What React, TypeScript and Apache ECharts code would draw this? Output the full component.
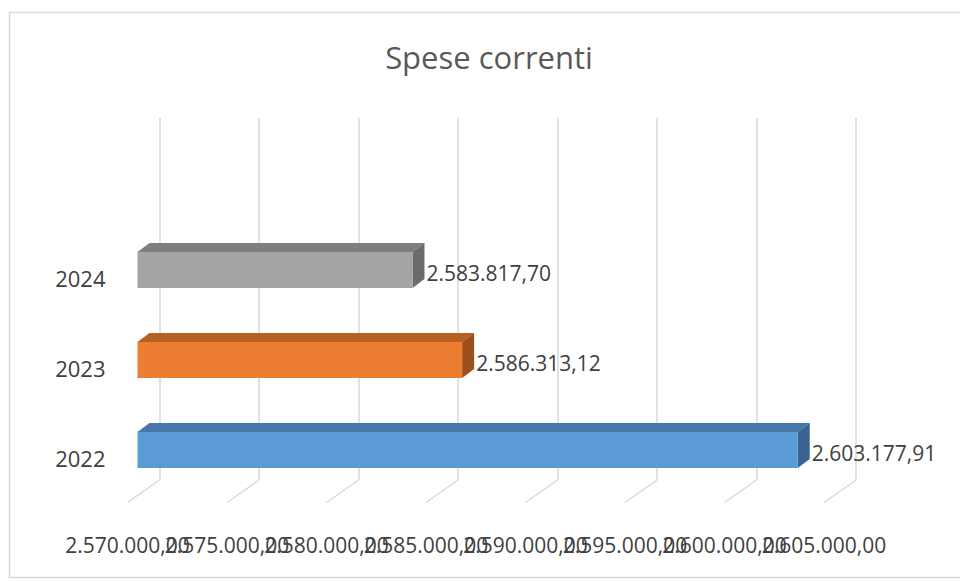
import React, { useEffect, useRef } from "react";
import * as echarts from "echarts";

const title = "Spese correnti";
const categories = ["2022", "2023", "2024"];
const values = [2603177.91, 2586313.12, 2583817.7];
const xMin = 2570000;
const xMax = 2605000;
const xStep = 5000;

const faceColors = ["#5B9BD5", "#ED7D31", "#A5A5A5"];
const topColors = ["#4677A8", "#B55F23", "#7F7F7F"];
const sideColors = ["#3A6391", "#9C4F1C", "#6B6B6B"];

function fmtIt(v: number): string {
  const [i, d] = v.toFixed(2).split(".");
  return i.replace(/\B(?=(\d{3})+(?!\d))/g, ".") + "," + d;
}

const tickValues: number[] = [];
for (let t = xMin; t <= xMax; t += xStep) tickValues.push(t);

const FONT = "'Open Sans', 'Liberation Sans', sans-serif";

export default function App() {
  const ref = useRef<HTMLDivElement>(null);
  useEffect(() => {
    if (!ref.current) return;
    const chart = echarts.init(ref.current, null, { renderer: "svg" });
    const option: any = {
      animation: false,
      backgroundColor: "#ffffff",
      grid: [
        { left: 159.5, right: 104, top: 118, bottom: 102 },
        { left: 159.5, right: 104, top: 233, bottom: 79 },
      ],
      xAxis: [
        {
          type: "value",
          gridIndex: 0,
          min: xMin,
          max: xMax,
          interval: xStep,
          axisLine: { show: false },
          axisTick: { show: false },
          splitLine: { show: true, lineStyle: { color: "#d9d9d9", width: 1.5 } },
          axisLabel: { show: false },
        },
        {
          type: "value",
          gridIndex: 1,
          min: xMin,
          max: xMax,
          interval: xStep,
          show: false,
        },
      ],
      yAxis: [
        { type: "value", gridIndex: 0, min: 0, max: 1, show: false },
        {
          type: "category",
          gridIndex: 1,
          data: categories,
          axisLine: { show: false },
          axisTick: { show: false },
          splitLine: { show: false },
          axisLabel: {
            margin: 54,
            fontFamily: FONT,
            fontSize: 22,
            color: "#404040",
          },
        },
      ],
      graphic: [
        {
          type: "rect",
          shape: { x: 9.5, y: 12.5, width: 1000, height: 565 },
          style: { fill: "none", stroke: "#d9d9d9", lineWidth: 1.5 },
          silent: true,
          z: -10,
        },
        {
          type: "text",
          x: 489,
          y: 57,
          style: {
            text: title,
            fontFamily: FONT,
            fontSize: 31,
            fill: "#595959",
            align: "center",
            verticalAlign: "middle",
          },
        },
      ],
      series: [
        {
          type: "custom",
          xAxisIndex: 0,
          yAxisIndex: 0,
          data: tickValues.map((t) => [t, 0]),
          silent: true,
          renderItem: (params: any, api: any) => {
            const t = api.value(0);
            const p = api.coord([t, 0]);
            return {
              type: "group",
              children: [
                {
                  type: "line",
                  shape: { x1: p[0], y1: p[1], x2: p[0] - 32, y2: p[1] + 22.5 },
                  style: { stroke: "#d9d9d9", lineWidth: 1.5 },
                },
                {
                  type: "text",
                  x: p[0] - 32,
                  y: p[1] + 65,
                  style: {
                    text: fmtIt(t),
                    fontFamily: FONT,
                    fontSize: 21,
                    fill: "#404040",
                    align: "center",
                    verticalAlign: "middle",
                  },
                },
              ],
            };
          },
        },
        {
          type: "custom",
          xAxisIndex: 1,
          yAxisIndex: 1,
          data: values.map((v, i) => [v, i]),
          silent: true,
          renderItem: (params: any, api: any) => {
            const idx = params.dataIndex;
            const v = api.value(0);
            const c = api.value(1);
            const base = api.coord([xMin, c]);
            const end = api.coord([v, c]);
            const band = api.size([0, 1])[1];
            const h = band * 0.4;
            const fdx = -22;
            const fdy = -8;
            const ddx = 12;
            const ddy = -9;
            const x0 = base[0] + fdx;
            const x1 = end[0] + fdx;
            const y0 = base[1] + fdy - h / 2;
            const y1 = base[1] + fdy + h / 2;
            return {
              type: "group",
              children: [
                {
                  type: "polygon",
                  shape: {
                    points: [
                      [x0, y0],
                      [x1, y0],
                      [x1 + ddx, y0 + ddy],
                      [x0 + ddx, y0 + ddy],
                    ],
                  },
                  style: { fill: topColors[idx] },
                },
                {
                  type: "polygon",
                  shape: {
                    points: [
                      [x1, y0],
                      [x1 + ddx, y0 + ddy],
                      [x1 + ddx, y1 + ddy],
                      [x1, y1],
                    ],
                  },
                  style: { fill: sideColors[idx] },
                },
                {
                  type: "rect",
                  shape: { x: x0, y: y0, width: x1 - x0, height: h },
                  style: { fill: faceColors[idx] },
                },
                {
                  type: "text",
                  x: x1 + ddx + 2,
                  y: base[1] + fdy + 3,
                  style: {
                    text: fmtIt(v),
                    fontFamily: FONT,
                    fontSize: 21,
                    fill: "#404040",
                    align: "left",
                    verticalAlign: "middle",
                  },
                },
              ],
            };
          },
        },
      ],
    };
    chart.setOption(option);
    return () => chart.dispose();
  }, []);
  return (
    <div
      ref={ref}
      style={{ position: "fixed", left: 0, top: 0, width: 960, height: 582 }}
    />
  );
}
